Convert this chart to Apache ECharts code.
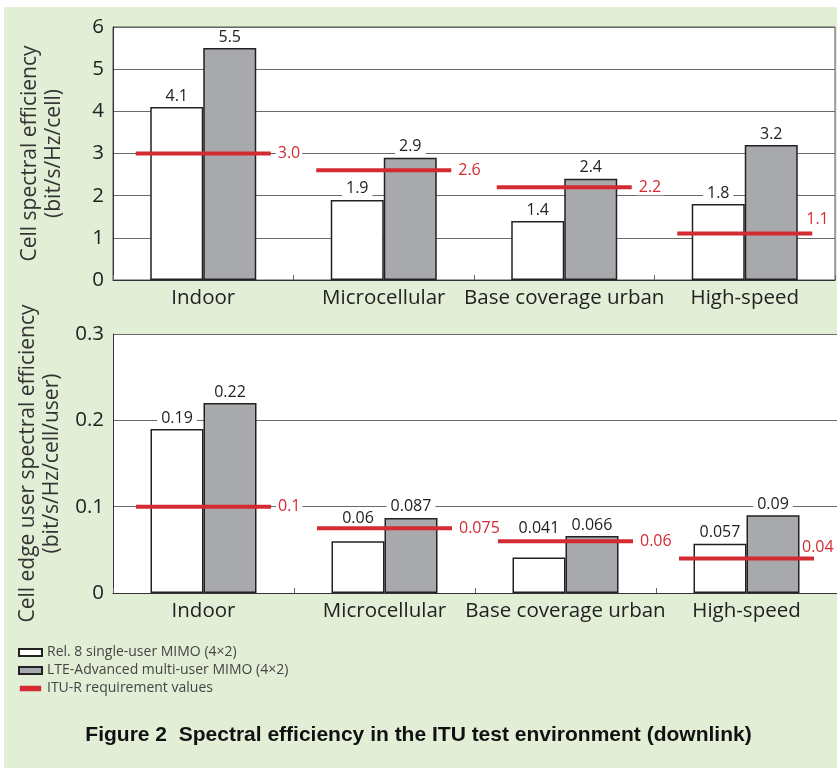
<!DOCTYPE html>
<html>
<head>
<meta charset="utf-8">
<script src="https://cdn.jsdelivr.net/npm/echarts@6/dist/echarts.min.js"></script>
<style>html,body{margin:0;padding:0;background:#fff}#c{width:837px;height:771px}</style>
</head>
<body>
<div id="c"></div>
<script>
const categories = ['Indoor', 'Microcellular', 'Base coverage urban', 'High-speed'];
const seriesNames = ['Rel. 8 single-user MIMO (4\u00d72)', 'LTE-Advanced multi-user MIMO (4\u00d72)', 'ITU-R requirement values'];
const rel8Cell = [4.1, 1.9, 1.4, 1.8];
const lteaCell = [5.5, 2.9, 2.4, 3.2];
const ituCell = [3.0, 2.6, 2.2, 1.1];
const ituCellLabels = ['3.0', '2.6', '2.2', '1.1'];
const rel8Edge = [0.19, 0.06, 0.041, 0.057];
const lteaEdge = [0.22, 0.087, 0.066, 0.09];
const ituEdge = [0.1, 0.075, 0.06, 0.04];
const ituEdgeLabels = ['0.1', '0.075', '0.06', '0.04'];
const topTicks = [0, 1, 2, 3, 4, 5, 6];
const bottomTicks = [0, 0.1, 0.2, 0.3];

// label placement tweaks (styles, not data)
const rel8EdgeLabelLift = [0, -12, -18, 0];

const BG = '#e3eed7';
const RED = '#d42a31';
const GRAY = '#a8a9ac';
const FONT = '"Open Sans", "Noto Sans", sans-serif';

function barLabel() {
  return { show: true, position: 'top', distance: 3, color: '#222', fontSize: 16, fontFamily: FONT,
           backgroundColor: '#fff', padding: [0, 4, 0, 4] };
}
function ituData(vals, labels, lastPos) {
  return vals.map((v, i) => {
    const d = { value: v, label: { formatter: labels[i] } };
    if (i === vals.length - 1) { d.label.position = lastPos; d.label.backgroundColor = 'transparent'; }
    return d;
  });
}
function xAxis(gi) {
  return {
    type: 'category', gridIndex: gi, data: categories,
    axisLine: { show: true, lineStyle: { color: '#333', width: 1 } },
    axisTick: { show: true, inside: true, length: 5, lineStyle: { color: '#666' } },
    axisLabel: { interval: 0, color: '#222', fontSize: 20.5, fontFamily: FONT, margin: 8 }
  };
}
function yAxis(gi, max, interval, name) {
  return {
    type: 'value', gridIndex: gi, min: 0, max: max, interval: interval,
    name: name, nameLocation: 'middle', nameGap: 47,
    nameTextStyle: { color: '#333', fontSize: 21, fontFamily: FONT, lineHeight: 24 },
    axisLine: { show: true, lineStyle: { color: '#333' } },
    axisTick: { show: false },
    axisLabel: { color: '#222', fontSize: 20.5, fontFamily: FONT, margin: 9,
                 formatter: v => String(+v.toFixed(2)) },
    splitLine: { show: true, lineStyle: { color: '#6a6a6a', width: 1 } }
  };
}
function ituSeries(gi, vals, labels, lastPos) {
  return {
    name: seriesNames[2], type: 'scatter', xAxisIndex: gi, yAxisIndex: gi,
    symbol: 'rect', symbolSize: [135, 4], z: 5,
    itemStyle: { color: RED, opacity: 1 },
    label: { show: true, position: 'right', distance: 5, color: RED, fontSize: 16, fontFamily: FONT,
             backgroundColor: '#fff', padding: [0, 2, 0, 2] },
    emphasis: { disabled: true },
    data: ituData(vals, labels, lastPos)
  };
}
function barSeries(gi, idx, vals, lifts) {
  return {
    name: seriesNames[idx], type: 'bar', xAxisIndex: gi, yAxisIndex: gi,
    barWidth: 53, barGap: '0%',
    itemStyle: { color: idx === 0 ? '#fff' : GRAY, borderColor: '#222', borderWidth: 1.5 },
    label: barLabel(),
    data: vals.map((v, i) => (lifts && lifts[i]) ? { value: v, label: { offset: [0, lifts[i]] } } : v)
  };
}

const chart = echarts.init(document.getElementById('c'), null, { renderer: 'canvas' });
chart.setOption({
  backgroundColor: '#fff',
  animation: false,
  graphic: [{ type: 'rect', z: -100, silent: true, shape: { x: 4, y: 7, width: 833, height: 761 }, style: { fill: BG } }],
  title: {
    text: 'Figure 2  Spectral efficiency in the ITU test environment (downlink)',
    left: 'center', top: 720,
    textStyle: { fontSize: 21, fontWeight: 'bold', color: '#111', fontFamily: '"Liberation Sans", Arial, sans-serif' }
  },
  legend: {
    orient: 'vertical', left: 18, top: 645, padding: 0, itemWidth: 23, itemHeight: 7, itemGap: 3,
    textStyle: { color: '#444', fontSize: 14, fontFamily: FONT, lineHeight: 15 },
    data: [
      { name: seriesNames[0], icon: 'rect' },
      { name: seriesNames[1], icon: 'rect' },
      { name: seriesNames[2], icon: 'rect', itemStyle: { borderColor: BG, borderWidth: 1.6 } }
    ]
  },
  grid: [
    { left: 113, right: 2, top: 27, height: 253, show: true, backgroundColor: '#fff', borderColor: '#555', borderWidth: 1 },
    { left: 113, right: 0, top: 334, height: 259, show: true, backgroundColor: '#fff', borderWidth: 0 }
  ],
  xAxis: [xAxis(0), xAxis(1)],
  yAxis: [
    yAxis(0, topTicks[topTicks.length - 1], topTicks[1] - topTicks[0], 'Cell spectral efficiency\n(bit/s/Hz/cell)'),
    yAxis(1, bottomTicks[bottomTicks.length - 1], bottomTicks[1] - bottomTicks[0], 'Cell edge user spectral efficiency\n(bit/s/Hz/cell/user)')
  ],
  series: [
    barSeries(0, 0, rel8Cell),
    barSeries(0, 1, lteaCell),
    ituSeries(0, ituCell, ituCellLabels, [127, -20]),
    barSeries(1, 0, rel8Edge, rel8EdgeLabelLift),
    barSeries(1, 1, lteaEdge),
    ituSeries(1, ituEdge, ituEdgeLabels, [121, -17])
  ]
});
</script>
</body>
</html>
